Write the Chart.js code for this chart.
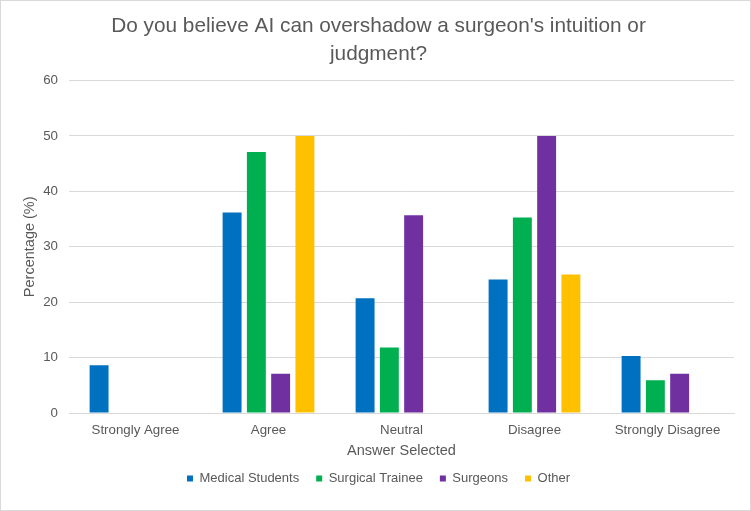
<!DOCTYPE html>
<html>
<head>
<meta charset="utf-8">
<script src="https://cdn.jsdelivr.net/npm/chart.js@4"></script>
<style>
  html, body { margin: 0; padding: 0; background: #ffffff; }
  #wrap { position: absolute; left: 0; top: 0; width: 749px; height: 509px; border: 1px solid #d9d9d9; background: #fff; }
  canvas { display: block; }
</style>
</head>
<body>
<div id="wrap"><canvas id="c" width="749" height="509"></canvas></div>
<script>
const categories = ["Strongly Agree", "Agree", "Neutral", "Disagree", "Strongly Disagree"];
const medicalStudents = [8.6, 36.2, 20.7, 24.1, 10.3];
const surgicalTrainee = [0, 47.1, 11.8, 35.3, 5.9];
const surgeons = [0, 7.1, 35.7, 50.0, 7.1];
const other = [0, 50.0, 0, 25.0, 0];
const seriesNames = ["Medical Students", "Surgical Trainee", "Surgeons", "Other"];
const yTicks = [0, 10, 20, 30, 40, 50, 60];

const FONT = "'Liberation Sans', Arial, sans-serif";
const TXT = "#595959";
const colors = ["#0070C0", "#00B050", "#7030A0", "#FFC000"];
const values = [medicalStudents, surgicalTrainee, surgeons, other];

new Chart(document.getElementById("c"), {
  type: "bar",
  data: {
    labels: categories,
    datasets: seriesNames.map((n, i) => ({
      label: n,
      data: values[i],
      backgroundColor: colors[i],
      borderWidth: 0,
      categoryPercentage: 0.73,
      barPercentage: 0.78
    }))
  },
  options: {
    responsive: false,
    animation: false,
    devicePixelRatio: 1,
    layout: { padding: { left: 22, right: 16, top: 4, bottom: 15 } },
    plugins: {
      title: {
        display: true,
        text: ["Do you believe AI can overshadow a surgeon's intuition or", "judgment?"],
        color: TXT,
        font: { family: FONT, size: 20.8, weight: "normal", lineHeight: 1.36 },
        padding: { top: 7, bottom: 12 }
      },
      legend: {
        position: "bottom",
        labels: {
          color: TXT,
          font: { family: FONT, size: 13 },
          boxWidth: 6,
          boxHeight: 6,
          padding: 17
        }
      },
      tooltip: { enabled: false }
    },
    scales: {
      x: {
        afterFit: (axis) => { axis.paddingLeft = 0; axis.paddingRight = 0; axis.height = 42; },
        grid: { display: false, drawTicks: false },
        border: { color: "#d9d9d9" },
        ticks: { color: TXT, font: { family: FONT, size: 13.3, lineHeight: 1.0 }, padding: 11 },
        title: { display: true, text: "Answer Selected", color: TXT, font: { family: FONT, size: 14.5, lineHeight: 1.0 }, padding: { top: 0, bottom: -3 } }
      },
      y: {
        min: 0, max: 60,
        afterBuildTicks: (axis) => { axis.ticks = yTicks.map(v => ({ value: v })); },
        afterFit: (axis) => { axis.paddingTop = 0; axis.paddingBottom = 0; axis.width = 46; },
        grid: { color: "#d9d9d9", drawTicks: false },
        border: { display: false },
        ticks: { color: TXT, font: { family: FONT, size: 13.3 }, padding: 11 },
        title: { display: true, text: "Percentage (%)", color: TXT, font: { family: FONT, size: 14.5, lineHeight: 1.0 }, padding: { top: 0, bottom: 0 } }
      }
    }
  }
});
</script>
</body>
</html>
